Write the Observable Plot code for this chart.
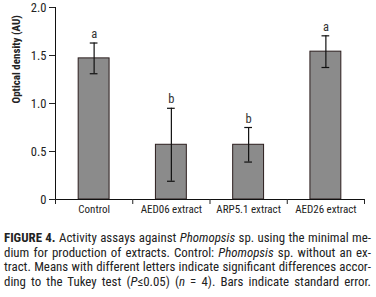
<!DOCTYPE html>
<html><head><meta charset="utf-8">
<script src="https://cdn.jsdelivr.net/npm/d3@7"></script>
<script src="https://cdn.jsdelivr.net/npm/@observablehq/plot@0.6"></script>
<style>
body{margin:0;background:#fff;}
#chart svg{display:block;}
#cap{font-size:11.6px;line-height:14.6px;color:#222;margin:9px 5px 0 4px;}
#cap div{text-align:justify;text-align-last:justify;white-space:nowrap;}
</style></head><body>
<div id="chart"></div>
<div id="cap">
<div><b>FIGURE 4.</b> Activity assays against <i>Phomopsis</i> sp. using the minimal me-</div>
<div>dium for production of extracts. Control: <i>Phomopsis</i> sp. without an ex-</div>
<div>tract. Means with different letters indicate significant differences accor-</div>
<div>ding to the Tukey test (<i>P</i>≤0.05) (<i>n</i> = 4). Bars indicate standard error.</div>
</div>
<script>
const categories = ["Control", "AED06 extract", "ARP5.1 extract", "AED26 extract"];
const means = [1.47, 0.57, 0.57, 1.54];
const errors = [0.16, 0.38, 0.18, 0.165];
const letters = ["a", "b", "b", "a"];
const yTicks = [0, 0.5, 1.0, 1.5, 2.0];
const yLabel = "Optical density (AU)";

// pick an installed condensed font
const ctx = document.createElement("canvas").getContext("2d");
function has(f) {
  const s = "Activity assays against Phomopsis sp. 0123456789";
  ctx.font = "20px monospace"; const a = ctx.measureText(s).width;
  ctx.font = `20px "${f}", monospace`; const b = ctx.measureText(s).width;
  return Math.abs(a - b) > 0.5;
}
const cands = ["Liberation Sans Narrow", "Arial Narrow", "Roboto Condensed", "DejaVu Sans Condensed", "Liberation Sans"];
const fam = cands.find(has) || "sans-serif";
const font = `"${fam}", sans-serif`;
const stretch = fam === "Liberation Sans" ? "normal" : "condensed";

const cap = document.getElementById("cap");
cap.style.fontFamily = font;
cap.style.fontStretch = stretch;

const data = categories.map((c, i) => ({c, i, m: means[i], e: errors[i], l: letters[i]}));
const bounds = d3.range(categories.length + 1);

const chart = Plot.plot({
  width: 376, height: 222,
  marginLeft: 55, marginRight: 12, marginTop: 7, marginBottom: 23,
  style: {fontFamily: font, fontSize: "11px", color: "#222", fontStretch: stretch},
  x: {domain: [0, categories.length]},
  y: {domain: [0, 2]},
  marks: [
    Plot.rectY(data, {x1: d => d.i + 0.3, x2: d => d.i + 0.7, y1: 0, y2: "m", fill: "#8b8b8b", stroke: "#2b1d1d", strokeWidth: 1}),
    Plot.ruleX(data, {x: d => d.i + 0.5, y1: d => d.m - d.e, y2: d => d.m + d.e, stroke: "#111", strokeWidth: 1.2}),
    Plot.ruleY(data, {y: d => d.m + d.e, x1: d => d.i + 0.45, x2: d => d.i + 0.55, stroke: "#111", strokeWidth: 1.2}),
    Plot.ruleY(data, {y: d => d.m - d.e, x1: d => d.i + 0.45, x2: d => d.i + 0.55, stroke: "#111", strokeWidth: 1.2}),
    Plot.text(data, {x: d => d.i + 0.5, y: d => d.m + d.e, text: "l", dy: -9, fontSize: 12.5, fill: "#333"}),
    Plot.ruleX([0], {y1: 0, y2: 2, stroke: "#111"}),
    Plot.ruleY([0], {x1: 0, x2: categories.length, stroke: "#111"}),
    Plot.axisY({ticks: yTicks, tickSize: 6, tickPadding: 3, tickFormat: d => d === 0 ? "0" : d.toFixed(1), label: null, fontSize: 12.5, fill: "#222"}),
    Plot.axisX({ticks: bounds, tickSize: 5, tickFormat: () => "", label: null}),
    Plot.text(data, {x: d => d.i + 0.5, frameAnchor: "bottom", dy: 13, text: "c", fontSize: 11, fill: "#222"}),
    Plot.text([yLabel], {frameAnchor: "left", rotate: -90, dx: -39, text: d => d, fontWeight: "bold", fontSize: 11, fill: "#222"})
  ]
});
document.getElementById("chart").appendChild(chart);

// fit caption lines to the available width
const lines = [...cap.querySelectorAll("div")];
const avail = cap.clientWidth;
let fs = 14;
cap.style.fontSize = fs + "px";
function maxW() {
  let w = 0;
  for (const l of lines) { l.style.textAlignLast = "left"; l.style.display = "inline-block"; w = Math.max(w, l.getBoundingClientRect().width); l.style.display = ""; l.style.textAlignLast = ""; }
  return w;
}
let w = maxW();
while (w > avail - 2 && fs > 8) { fs -= 0.1; cap.style.fontSize = fs + "px"; w = maxW(); }
</script>
</body></html>
